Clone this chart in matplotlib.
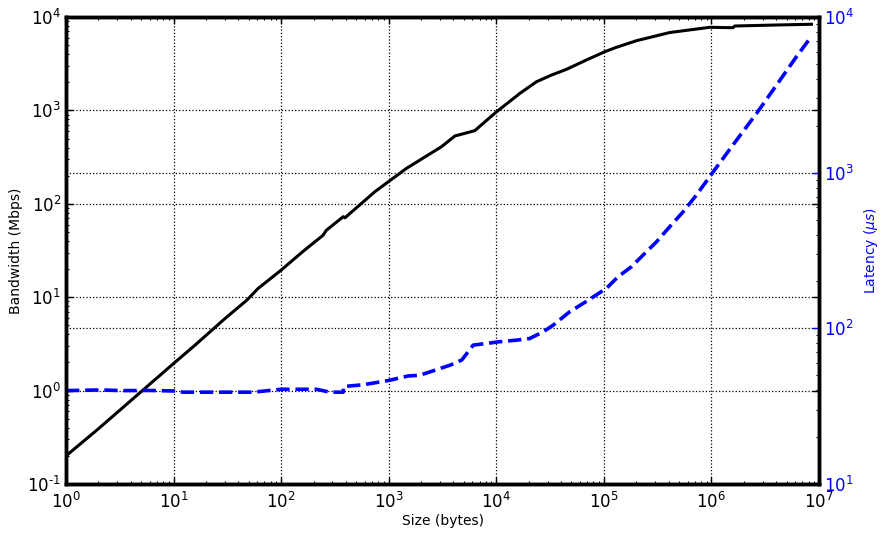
import matplotlib
matplotlib.use("Agg")
import matplotlib.pyplot as plt
from matplotlib.ticker import FuncFormatter, LogLocator
import numpy as np

# Bandwidth data (Mbps) vs message size (bytes)
bw_size = [1, 2, 4, 8, 10, 16, 29, 48, 61, 100, 160, 245, 263, 378, 392, 745,
           1466, 3090, 4120, 6310, 10000, 16600, 23700, 32700, 45000, 69000,
           102000, 131000, 201000, 410000, 966000, 1585000, 1650000, 4030000, 8510000]
bw_vals = [0.2, 0.39, 0.78, 1.56, 1.95, 3.1, 5.7, 9.3, 12.4, 19.5, 31, 46, 52, 72.8, 70.8, 135,
           240, 408, 532, 607, 962, 1524, 2030, 2393, 2754, 3470,
           4250, 4740, 5575, 6820, 7760, 7680, 8010, 8210, 8360]

# Latency data (microseconds) vs message size (bytes)
lat_size = [1, 2.1, 3.3, 6, 10, 12.2, 20, 29, 55, 100, 214, 283, 378, 380, 580, 990,
            1510, 1950, 3720, 4780, 6100, 8130, 10700, 15500, 20400, 27300, 33900,
            48300, 64600, 85100, 106000, 136000, 181000, 232000, 309000, 410000,
            546000, 726000, 1040000, 1585000, 2630000, 4030000, 6170000, 8400000]
lat_vals = [39.8, 40.2, 39.8, 39.9, 39.6, 38.9, 38.9, 38.9, 38.9, 40.6, 40.6, 38.9, 38.9, 42.3, 43.4, 46.2,
            49.4, 50, 58, 62.6, 78, 80, 82, 84, 86, 95, 105,
            128, 145, 164, 181, 215, 249, 296, 360, 450,
            561, 719, 1014, 1506, 2405, 3654, 5560, 7410]

plt.rcParams['font.family'] = ['DejaVu Sans']
plt.rcParams['mathtext.fontset'] = 'dejavusans'
plt.rcParams['axes.unicode_minus'] = False


def pow10(v, pos):
    e = int(round(np.log10(v)))
    s = r'\text{-}%d' % (-e) if e < 0 else '%d' % e
    return r'$10^{%s}$' % s


fig = plt.figure(figsize=(8.85, 5.36), dpi=100)
fig.patch.set_facecolor('white')
ax1 = fig.add_axes([66/885, 1-484/536, (819-66)/885, (484-17)/536])
ax2 = ax1.twinx()

ax1.plot(bw_size, bw_vals, color='black', lw=2.2, solid_joinstyle='round')
ax2.plot(lat_size, lat_vals, color='blue', lw=2.6, linestyle='--')

for ax in (ax1, ax2):
    ax.set_xscale('log')
    ax.set_yscale('log')
    ax.set_xlim(1, 1e7)
ax1.set_ylim(0.1, 1e4)
ax2.set_ylim(10, 1e4)
ax1.xaxis.set_major_formatter(FuncFormatter(pow10))
ax1.yaxis.set_major_formatter(FuncFormatter(pow10))
ax2.yaxis.set_major_formatter(FuncFormatter(pow10))

ax1.grid(True, which='major', axis='both', color='black', linestyle=':', lw=0.9)
ax2.grid(True, which='major', axis='y', color='black', linestyle=':', lw=0.9)
ax1.set_axisbelow(True)

for sp in list(ax1.spines.values()) + list(ax2.spines.values()):
    sp.set_linewidth(2.5)
    sp.set_color('black')

ax1.tick_params(which='both', direction='in', top=True, right=True, labelsize=12)
ax1.tick_params(which='major', length=5, width=1)
ax1.tick_params(which='minor', length=2.5, width=0.8, right=False)
ax1.tick_params(axis='x', pad=6)
ax2.tick_params(which='both', direction='in', labelsize=12)
ax2.tick_params(which='major', length=5, width=1, color='blue', labelcolor='blue')
ax2.tick_params(which='minor', length=2.5, width=0.8)

ax1.set_xlabel('Size (bytes)', fontsize=10, labelpad=1)
ax1.set_ylabel('Bandwidth (Mbps)', fontsize=10)
ax1.yaxis.set_label_coords(-0.057, 0.5)
ax2.set_ylabel(r'Latency ($\mu s$)', fontsize=10, color='blue', labelpad=6)

fig.savefig('out.png', dpi=100, facecolor='white')
